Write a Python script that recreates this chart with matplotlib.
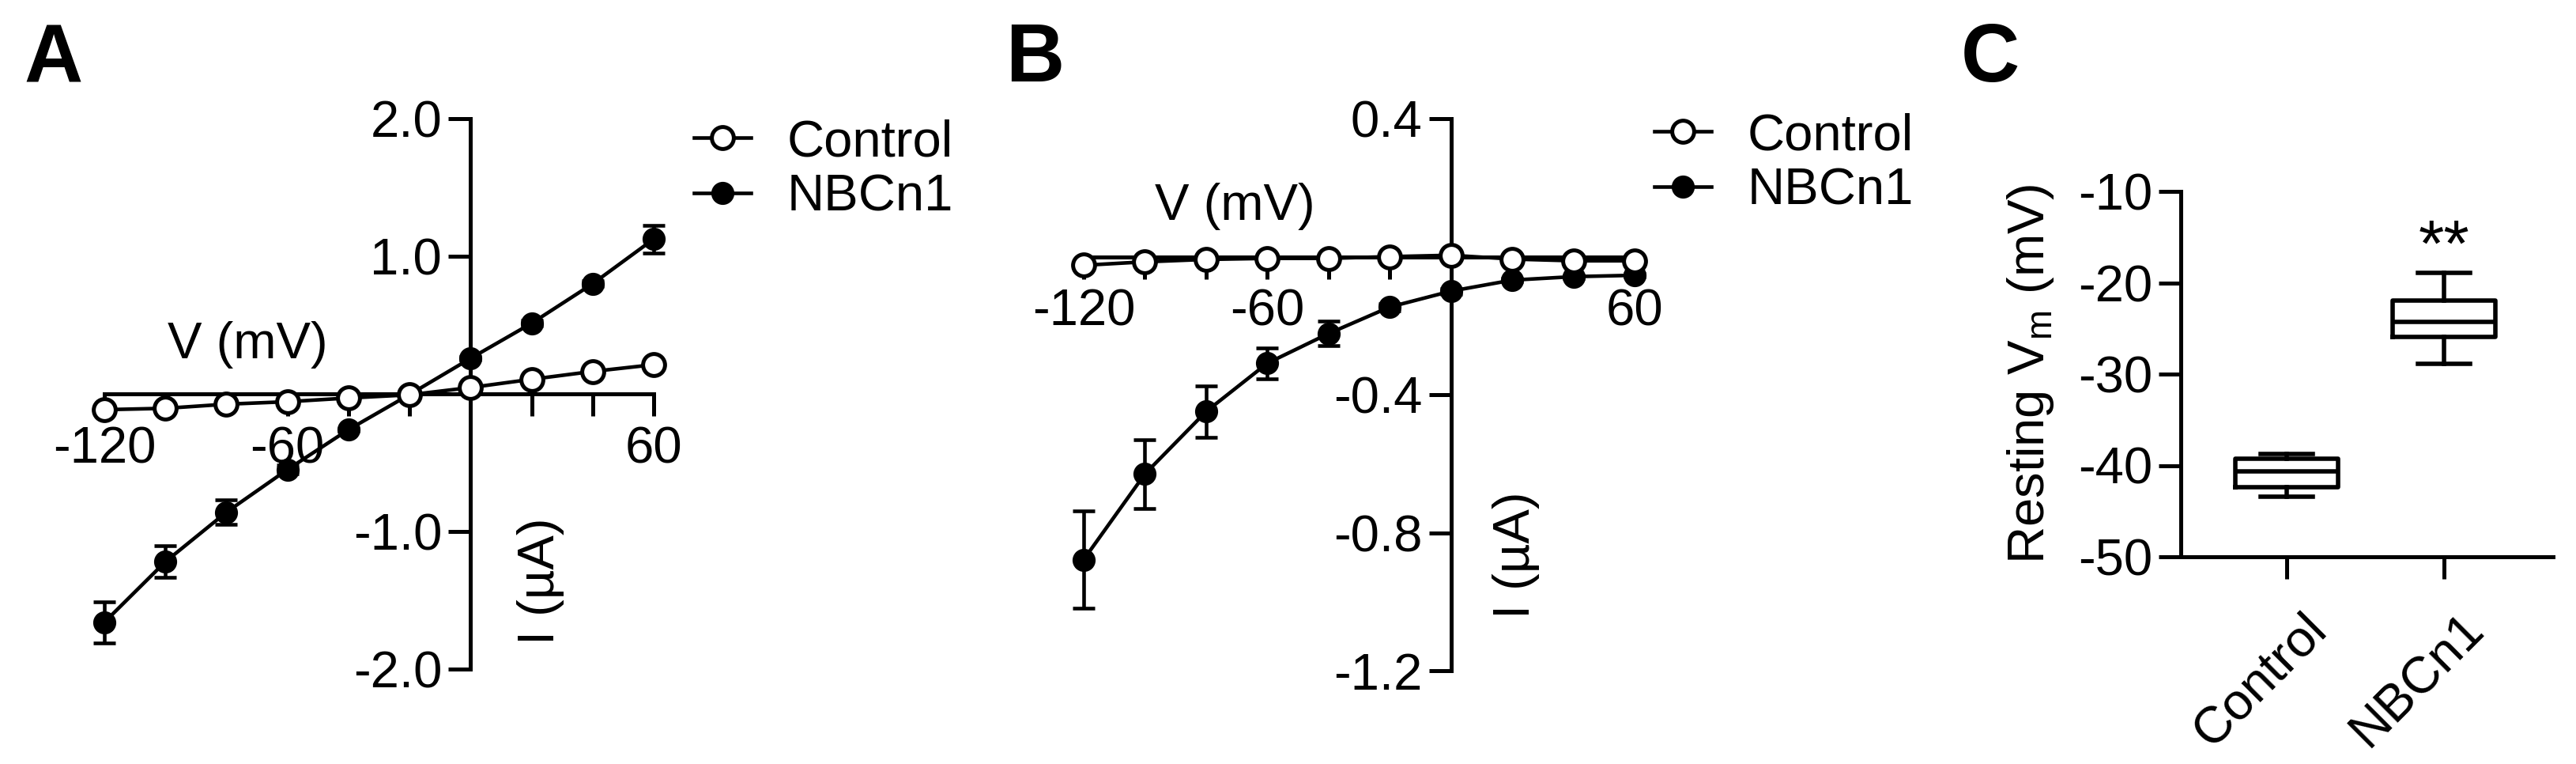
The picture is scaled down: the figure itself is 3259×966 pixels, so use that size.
import matplotlib
matplotlib.use('Agg')
import matplotlib.pyplot as plt
import matplotlib.transforms as mtransforms
from matplotlib.ticker import FixedLocator, FixedFormatter

plt.rcParams['font.family'] = ['Liberation Sans', 'DejaVu Sans']
plt.rcParams['mathtext.fontset'] = 'custom'
plt.rcParams['mathtext.rm'] = 'Liberation Sans'
plt.rcParams['mathtext.it'] = 'Liberation Sans:italic'

# ---------------- data ----------------
voltage = [-120, -100, -80, -60, -40, -20, 0, 20, 40, 60]

a_control = [-0.115, -0.105, -0.075, -0.057, -0.030, -0.007, 0.046, 0.106, 0.163, 0.212]
a_nbcn1 = [-1.66, -1.22, -0.86, -0.55, -0.26, -0.005, 0.258, 0.513, 0.80, 1.125]
a_nbcn1_err = [0.15, 0.115, 0.09, 0.03, 0.01, 0.01, 0.01, 0.02, 0.02, 0.10]

b_control = [-0.025, -0.015, -0.008, -0.005, -0.005, 0.0, 0.004, -0.007, -0.012, -0.012]
b_nbcn1 = [-0.878, -0.630, -0.449, -0.309, -0.223, -0.146, -0.100, -0.068, -0.058, -0.054]
b_nbcn1_err = [0.14, 0.10, 0.074, 0.045, 0.036, 0.01, 0.008, 0.005, 0.005, 0.005]

groups = ['Control', 'NBCn1']
c_whislo = [-43.4, -28.9]
c_q1 = [-42.38, -25.9]
c_med = [-40.68, -24.26]
c_q3 = [-39.23, -21.94]
c_whishi = [-38.77, -18.9]

series_names = ['Control', 'NBCn1']
a_yticks = [-2.0, -1.0, 1.0, 2.0]
a_ytick_labels = ['-2.0', '-1.0', '1.0', '2.0']
b_yticks = [-1.2, -0.8, -0.4, 0.4]
b_ytick_labels = ['-1.2', '-0.8', '-0.4', '0.4']
x_ticks = voltage
x_tick_labels = ['-120', '', '', '-60', '', '', '', '', '', '60']
c_yticks = [-50, -40, -30, -20, -10]
c_ytick_labels = ['-50', '-40', '-30', '-20', '-10']

# ---------------- style ----------------
W, H = 3259, 966
FS = 47
LW = 3.3
SW = 3.6
TL = 20

fig = plt.figure(figsize=(W / 100, H / 100), dpi=100)


def px_rect(x0, x1, ytop, ybot):
    return [x0 / W, 1 - ybot / H, (x1 - x0) / W, (ybot - ytop) / H]


def iv_panel(ax, ctrl, nb, nb_err, ylim, yticks, ylabels, vpos, ipos, legpos):
    ax.set_xlim(-120, 60)
    ax.set_ylim(*ylim)
    for s in ['top', 'right']:
        ax.spines[s].set_visible(False)
    for s in ['left', 'bottom']:
        ax.spines[s].set_position(('data', 0))
        ax.spines[s].set_linewidth(SW)
        ax.spines[s].set_zorder(2.5)
    eb = ax.errorbar(voltage, nb, yerr=nb_err, fmt='none', ecolor='black',
                     elinewidth=LW, capsize=10, capthick=LW, zorder=3)
    for art in list(eb.lines[1]) + list(eb.lines[2]):
        art.set_clip_on(False)
    ln_nb, = ax.plot(voltage, nb, '-o', color='black', lw=LW, ms=18, mfc='black',
                     mec='black', mew=3, clip_on=False, zorder=4)
    ln_c, = ax.plot(voltage, ctrl, '-o', color='black', lw=LW, ms=20, mfc='white',
                    mec='black', mew=SW, clip_on=False, zorder=5)
    ax.xaxis.set_major_locator(FixedLocator(x_ticks))
    ax.xaxis.set_major_formatter(FixedFormatter(x_tick_labels))
    ax.yaxis.set_major_locator(FixedLocator(yticks))
    ax.yaxis.set_major_formatter(FixedFormatter(ylabels))
    ax.tick_params(axis='both', direction='out', length=TL, width=SW,
                   labelsize=FS, colors='black')
    ax.tick_params(axis='x', pad=9)
    ax.tick_params(axis='y', pad=6)
    ax.text(vpos[0], vpos[1], 'V (mV)', ha='center', va='baseline', fontsize=FS)
    ax.text(ipos[0], ipos[1], 'I (µA)', ha='center', va='center', rotation=90,
            fontsize=FS)
    ax.legend([ln_c, ln_nb], series_names, loc='upper left',
              bbox_to_anchor=legpos, bbox_transform=fig.transFigure,
              frameon=False, fontsize=FS, borderpad=0, borderaxespad=0,
              handlelength=1.1, handletextpad=0.7, labelspacing=0.15)


axA = fig.add_axes(px_rect(132, 827, 150, 846))
iv_panel(axA, a_control, a_nbcn1, a_nbcn1_err, (-2, 2), a_yticks, a_ytick_labels,
         (-73, 0.26), (22.9, -1.36), (878 / W, 1 - 150 / H))

axB = fig.add_axes(px_rect(1371, 2068, 150, 848))
iv_panel(axB, b_control, b_nbcn1, b_nbcn1_err, (-1.2, 0.4), b_yticks, b_ytick_labels,
         (-70.5, 0.107), (21.2, -0.864), (2093 / W, 1 - 142 / H))

# ---------------- panel C ----------------
axC = fig.add_axes(px_rect(2759, 3230, 242, 704))
stats = []
for i, g in enumerate(groups):
    stats.append(dict(label=g, med=c_med[i], q1=c_q1[i], q3=c_q3[i],
                      whislo=c_whislo[i], whishi=c_whishi[i], fliers=[]))
bw = 4.0
axC.bxp(stats, positions=[1, 2], widths=0.65, capwidths=0.33, showfliers=False,
        boxprops=dict(color='black', linewidth=bw),
        medianprops=dict(color='black', linewidth=bw),
        whiskerprops=dict(color='black', linewidth=bw),
        capprops=dict(color='black', linewidth=bw))
axC.set_xlim(0.327, 2.693)
axC.set_ylim(-50, -10)
for s in ['top', 'right']:
    axC.spines[s].set_visible(False)
for s in ['left', 'bottom']:
    axC.spines[s].set_linewidth(SW)
axC.yaxis.set_major_locator(FixedLocator(c_yticks))
axC.yaxis.set_major_formatter(FixedFormatter(c_ytick_labels))
axC.set_xticks([1, 2])
axC.set_xticklabels(groups)
axC.tick_params(axis='both', direction='out', length=TL, width=SW,
                labelsize=FS, colors='black')
axC.tick_params(axis='y', pad=6)
axC.tick_params(axis='x', pad=24)
shift = mtransforms.ScaledTranslation(20 / 100, 0, fig.dpi_scale_trans)
for lbl in axC.get_xticklabels():
    lbl.set_rotation(45)
    lbl.set_ha('right')
    lbl.set_va('top')
    lbl.set_rotation_mode('anchor')
    lbl.set_transform(lbl.get_transform() + shift)
axC.text(2, -16.3, '**', ha='center', va='center', fontsize=60)
axC.set_ylabel(r'Resting V$_\mathregular{m}$ (mV)', fontsize=FS)
axC.yaxis.set_label_coords(-0.335, 0.5)

# ---------------- panel letters ----------------
for letter, x in [('A', 30), ('B', 1272), ('C', 2481)]:
    fig.text(x / W, 1 - 103 / H, letter, fontsize=74, fontweight='bold',
             ha='left', va='baseline')

fig.savefig('out.png', dpi=100)
